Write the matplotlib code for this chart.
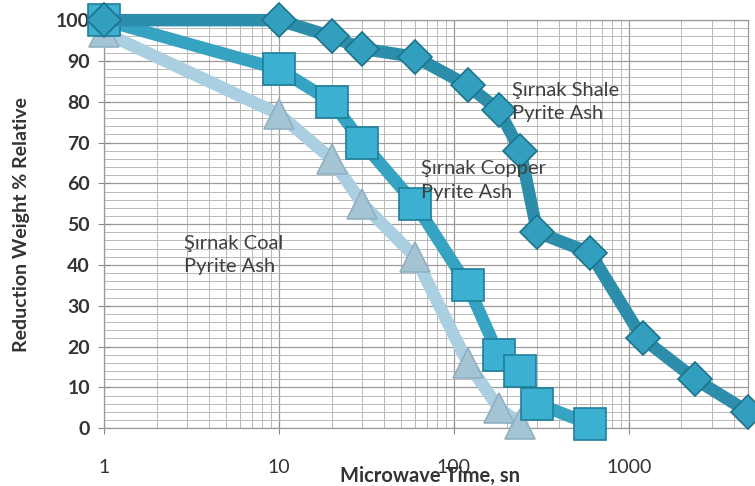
import matplotlib.pyplot as plt
from matplotlib.ticker import FixedLocator, LogLocator, NullFormatter, MultipleLocator

plt.rcParams['font.family'] = ['Lato', 'DejaVu Sans']

shaleTime = [1, 10, 20, 30, 60, 120, 180, 240, 300, 600, 1200, 2400, 4800]
shaleWeight = [100, 100, 96, 93, 91, 84, 78, 68, 48, 43, 22, 12, 4]

copperTime = [1, 10, 20, 30, 60, 120, 180, 240, 300, 600]
copperWeight = [100, 88, 80, 70, 55, 35, 18, 14, 6, 1]

coalTime = [1, 10, 20, 30, 60, 120, 180, 240]
coalWeight = [97, 77, 66, 55, 42, 16, 5, 1]

xTicks = [1, 10, 100, 1000]
yTicks = list(range(0, 101, 10))

fig = plt.figure(figsize=(7.55, 4.86), dpi=100)
ax = fig.add_axes([0.1377, 0.119, 0.853, 0.8395])

ax.set_xscale('log')
ax.set_xlim(1, 4800)
ax.set_ylim(0, 100)

ax.xaxis.set_major_locator(FixedLocator(xTicks))
ax.xaxis.set_minor_locator(LogLocator(base=10, subs=range(2, 10)))
ax.xaxis.set_minor_formatter(NullFormatter())
ax.set_xticklabels([str(t) for t in xTicks])
ax.yaxis.set_major_locator(FixedLocator(yTicks))
ax.yaxis.set_minor_locator(MultipleLocator(2))

ax.grid(which='major', color='#9a9a9a', linewidth=0.9)
ax.grid(which='minor', color='#b8b8b8', linewidth=0.7)
ax.set_axisbelow(True)
for s in ax.spines.values():
    s.set_color('#9a9a9a')
    s.set_linewidth(0.9)

ax.tick_params(axis='both', which='major', direction='inout', length=8, color='#8a8a8a')
ax.tick_params(axis='both', which='minor', length=0)
ax.tick_params(axis='x', labelsize=14, labelcolor='#333333', pad=18)
ax.tick_params(axis='y', labelsize=14, labelcolor='#333333', pad=6)
for lab in ax.get_yticklabels():
    lab.set_fontweight('bold')

# coal, copper, shale from back to front
ax.plot(coalTime, coalWeight, color='#aacfe0', linewidth=9, solid_joinstyle='round',
        marker='^', markersize=21, markerfacecolor='#a4c4d4', markeredgecolor='#8fb0c0',
        markeredgewidth=1.2, clip_on=False, zorder=3)
ax.plot(copperTime, copperWeight, color='#36a3c2', linewidth=9, solid_joinstyle='round',
        marker='s', markersize=23, markerfacecolor='#3bb0d1', markeredgecolor='#1f7f9a',
        markeredgewidth=1.2, clip_on=False, zorder=4)
ax.plot(shaleTime, shaleWeight, color='#2d8eab', linewidth=9, solid_joinstyle='round',
        marker='D', markersize=17, markerfacecolor='#339fbe', markeredgecolor='#1d728c',
        markeredgewidth=1.2, clip_on=False, zorder=5)

labelStyle = dict(fontsize=14.5, color='#404040', linespacing=1.45,
                  va='center', ha='left', zorder=6)
ax.text(214, 80, 'Şırnak Shale\nPyrite Ash', **labelStyle)
ax.text(65, 60.7, 'Şırnak Copper\nPyrite Ash', **labelStyle)
ax.text(2.87, 42.4, 'Şırnak Coal\nPyrite Ash', **labelStyle)

ax.set_ylabel('Reduction Weight % Relative', fontsize=14, fontweight='bold', color='#333333')
ax.yaxis.set_label_coords(-0.115, 0.5)
ax.set_xlabel('Microwave Time, sn', fontsize=14.5, fontweight='bold', color='#333333')
ax.xaxis.set_label_coords(0.506, -0.093)

fig.savefig('out.png', dpi=100)
